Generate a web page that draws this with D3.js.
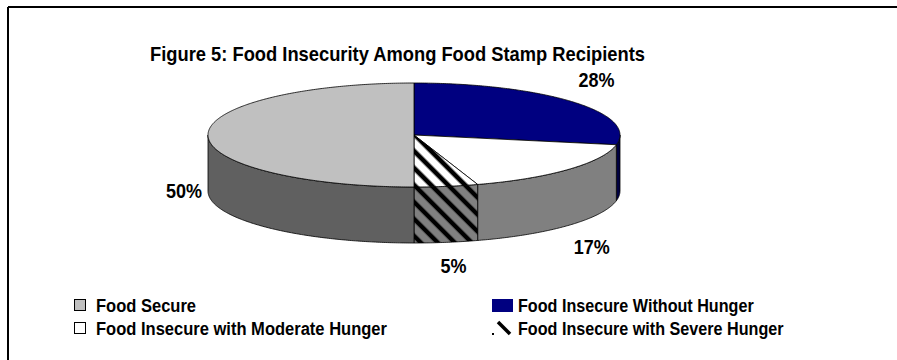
<!DOCTYPE html>
<html>
<head>
<meta charset="utf-8">
<script src="https://cdn.jsdelivr.net/npm/d3@7"></script>
<style>
  html, body { margin: 0; padding: 0; background: #fff; }
  svg { display: block; }
  text { font-family: "Liberation Sans", Arial, sans-serif; font-weight: bold; fill: #000; }
</style>
</head>
<body>
<svg id="chart" width="897" height="360"></svg>
<script>
// Slices in drawing order, clockwise from 12 o'clock
const categories = [
  "Food Insecure Without Hunger",
  "Food Insecure with Moderate Hunger",
  "Food Insecure with Severe Hunger",
  "Food Secure"
];
const values = [28, 17, 5, 50];
const valueLabels = ["28%", "17%", "5%", "50%"];

// Legend entries, read row by row in two columns
const legendOrder = [
  "Food Secure",
  "Food Insecure Without Hunger",
  "Food Insecure with Moderate Hunger",
  "Food Insecure with Severe Hunger"
];

const titleText = "Figure 5: Food Insecurity Among Food Stamp Recipients";

const topFill = {
  "Food Insecure Without Hunger": "#000080",
  "Food Insecure with Moderate Hunger": "#ffffff",
  "Food Insecure with Severe Hunger": "url(#hatchTop)",
  "Food Secure": "#c0c0c0"
};
const sideFill = {
  "Food Insecure Without Hunger": "#000040",
  "Food Insecure with Moderate Hunger": "#808080",
  "Food Insecure with Severe Hunger": "url(#hatchSide)",
  "Food Secure": "#606060"
};
const legendFill = {
  "Food Secure": "#c0c0c0",
  "Food Insecure Without Hunger": "#000080",
  "Food Insecure with Moderate Hunger": "#ffffff",
  "Food Insecure with Severe Hunger": "#ffffff"
};

const svg = d3.select("#chart");

// Frame
svg.append("line").attr("x1", 8).attr("y1", 7).attr("x2", 897).attr("y2", 7)
  .attr("stroke", "#000").attr("stroke-width", 2);
svg.append("line").attr("x1", 8).attr("y1", 7).attr("x2", 8).attr("y2", 360)
  .attr("stroke", "#000").attr("stroke-width", 2);

// Hatch patterns
const defs = svg.append("defs");
function hatch(id, bg) {
  const p = defs.append("pattern").attr("id", id)
    .attr("patternUnits", "userSpaceOnUse")
    .attr("width", 12).attr("height", 12)
    .attr("patternTransform", "rotate(-45)");
  p.append("rect").attr("width", 12).attr("height", 12).attr("fill", bg);
  p.append("rect").attr("x", 3).attr("width", 6).attr("height", 12).attr("fill", "#404040").attr("opacity", 0.5);
  p.append("rect").attr("x", 4).attr("width", 4).attr("height", 12).attr("fill", "#000");
}
hatch("hatchTop", "#ffffff");
hatch("hatchSide", "#808080");

// Title
svg.append("text")
  .attr("x", 150).attr("y", 61)
  .attr("font-size", 20.5)
  .attr("textLength", 495)
  .attr("lengthAdjust", "spacingAndGlyphs")
  .text(titleText);

// 3D pie geometry
const cx = 414, cy = 135, rx = 206, ry = 52, depth = 56;
const pt = t => [cx + rx * Math.sin(t), cy - ry * Math.cos(t)];

const arcs = d3.pie().sort(null).value(d => d.value)(
  categories.map((c, i) => ({ name: c, value: values[i], label: valueLabels[i] }))
);

function arcPoints(a, b) {
  const n = Math.max(2, Math.ceil(Math.abs(b - a) / 0.01));
  return d3.range(n + 1).map(i => pt(a + (b - a) * i / n));
}

const line = d3.line();

// Side walls: only the front half of the rim (angles between 90° and 270°)
const gSide = svg.append("g");
arcs.forEach(d => {
  const a = Math.max(d.startAngle, Math.PI / 2);
  const b = Math.min(d.endAngle, 3 * Math.PI / 2);
  if (b <= a) return;
  const top = arcPoints(a, b);
  const bottom = top.slice().reverse().map(([x, y]) => [x, y + depth]);
  gSide.append("path")
    .attr("d", line(top.concat(bottom)) + "Z")
    .attr("fill", sideFill[d.data.name])
    .attr("stroke", "#000").attr("stroke-width", 0.8)
    .attr("stroke-linejoin", "round");
});

// Top faces
const gTop = svg.append("g");
arcs.forEach(d => {
  const pts = [[cx, cy]].concat(arcPoints(d.startAngle, d.endAngle));
  gTop.append("path")
    .attr("d", line(pts) + "Z")
    .attr("fill", topFill[d.data.name])
    .attr("stroke", "#000").attr("stroke-width", 0.8)
    .attr("stroke-linejoin", "round");
});

// Percentage labels placed outside the rim at each slice's mid-angle;
// the label box's width widens the vertical offset on the sides, and
// labels on the front half drop below the rim's depth
const labelRx = rx + 27;
arcs.forEach(d => {
  const m = (d.startAngle + d.endAngle) / 2;
  const c = Math.cos(m), s = Math.sin(m);
  const labelRy = ry + 22 + 15 * Math.abs(s);
  const x = cx + 3 + labelRx * s;
  let y = cy - labelRy * c;
  if (c < 0.05) y += depth;
  svg.append("text")
    .attr("transform", `translate(${x},${y + 7}) scale(0.9,1)`)
    .attr("text-anchor", "middle")
    .attr("font-size", 20)
    .text(d.data.label);
});

// Legend: two columns, two rows
const legendX = [74, 492], legendY = [299, 322];
legendOrder.forEach((name, i) => {
  const col = i % 2, row = Math.floor(i / 2);
  const g = svg.append("g").attr("transform", `translate(${legendX[col]},${legendY[row]})`);
  if (col === 0) {
    g.append("rect").attr("x", 0.5).attr("y", 0.5).attr("width", 11).attr("height", 11)
      .attr("fill", legendFill[name]).attr("stroke", "#000").attr("stroke-width", 1);
    g.append("text").attr("transform", "translate(22,13) scale(0.87,1)")
      .attr("font-size", 19).text(name);
  } else {
    g.append("rect").attr("x", 0).attr("y", 0).attr("width", 21).attr("height", 13)
      .attr("fill", legendFill[name]);
    if (name === "Food Insecure with Severe Hunger") {
      // a fragment of the hatch: one diagonal stroke and a corner dot
      g.append("line").attr("x1", 6).attr("y1", 0).attr("x2", 18).attr("y2", 12)
        .attr("stroke", "#000").attr("stroke-width", 3.5);
      g.append("rect").attr("x", 0).attr("y", 11).attr("width", 2).attr("height", 2).attr("fill", "#000");
    }
    g.append("text").attr("transform", "translate(26,13) scale(0.85,1)")
      .attr("font-size", 19).text(name);
  }
});
</script>
</body>
</html>
